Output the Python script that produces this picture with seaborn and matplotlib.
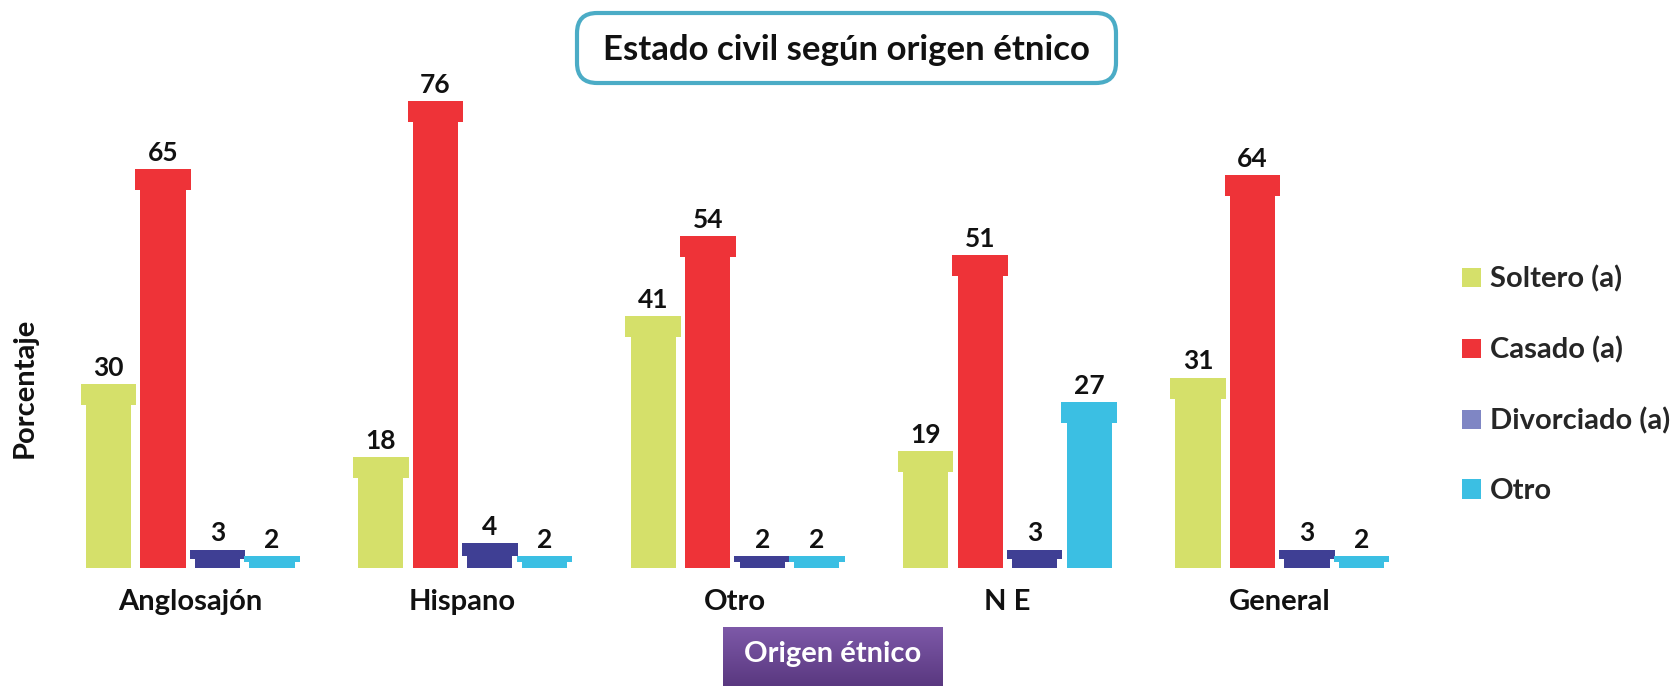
import matplotlib
matplotlib.use("Agg")
import matplotlib.pyplot as plt
import numpy as np
import pandas as pd
import seaborn as sns
from matplotlib.patches import Rectangle, Patch, FancyBboxPatch

# ---- data ----
categories = ["Anglosajón", "Hispano", "Otro", "N E", "General"]
soltero = [30, 18, 41, 19, 31]
casado = [65, 76, 54, 51, 64]
divorciado = [3, 4, 2, 3, 3]
otro = [2, 2, 2, 27, 2]
series_names = ["Soltero (a)", "Casado (a)", "Divorciado (a)", "Otro"]
bar_colors = ["#d5e06a", "#ee3338", "#3f3f94", "#3bbfe3"]
legend_colors = ["#d5e06a", "#ee3338", "#7f86c4", "#3bbfe3"]
title = "Estado civil según origen étnico"
xlabel = "Origen étnico"
ylabel = "Porcentaje"

df = pd.DataFrame({"origen": categories, series_names[0]: soltero,
                   series_names[1]: casado, series_names[2]: divorciado,
                   series_names[3]: otro})
long = df.melt(id_vars="origen", var_name="estado", value_name="pct")

sns.set_theme(style="white")
FONT = ["Lato", "DejaVu Sans"]
plt.rcParams["font.family"] = FONT

W, H = 1675, 686
fig = plt.figure(figsize=(W / 100, H / 100), dpi=100)
ax = fig.add_axes([54 / W, (H - 568) / H, (1416 - 54) / W, (568 - 46) / H])

sns.barplot(data=long, x="origen", y="pct", hue="estado", order=categories,
            hue_order=series_names, palette=bar_colors, width=0.8,
            saturation=1, legend=False, ax=ax, errorbar=None)

ax.set_xlim(-0.5, 4.5)
ax.set_ylim(0, 85)

cap_units = 3.4
for cont in ax.containers:
    for p in list(cont.patches):
        x, w, h = p.get_x(), p.get_width(), p.get_height()
        ch = min(cap_units, 0.5 * h)
        fc = p.get_facecolor()
        ax.add_patch(Rectangle((x - w * 0.01, h - ch), w * 1.02, ch,
                               facecolor=fc, edgecolor="none", linewidth=0, zorder=3))
        p.set_x(x + w * 0.085)
        p.set_width(w * 0.83)
        p.set_linewidth(0)
        p.set_edgecolor("none")
    texts = ax.bar_label(cont, fmt="%.0f", padding=3)
    for t in texts:
        t.set_fontsize(19)
        t.set_fontweight("bold")
        t.set_color("#111111")

for s in ax.spines.values():
    s.set_visible(False)
ax.set_yticks([])
ax.set_xlabel("")
ax.set_ylabel("")
ax.tick_params(axis="x", length=0, pad=15)
for lab in ax.get_xticklabels():
    lab.set_fontsize(21)
    lab.set_fontweight("bold")
    lab.set_color("#111111")

# y label
fig.text(25 / W, (H - 388) / H, ylabel, rotation=90, ha="center", va="center",
         fontsize=21, fontweight="bold", color="#111111")

# title box
x0, x1, y0, y1 = 577, 1116, 13, 83
fig.patches.append(FancyBboxPatch((x0 / W, (H - y1) / H), (x1 - x0) / W, (y1 - y0) / H,
                                  boxstyle="round,pad=0,rounding_size=0.012",
                                  transform=fig.transFigure, facecolor="white",
                                  edgecolor="#4bacc6", linewidth=3, mutation_aspect=W / H))
fig.text((x0 + x1) / 2 / W, (H - 50) / H, title, ha="center", va="center",
         fontsize=25, fontweight="bold", color="#111111")

# x label box with gradient
bx0, bx1, by0, by1 = 723, 943, 627, 686
bax = fig.add_axes([bx0 / W, 0, (bx1 - bx0) / W, (H - by0) / H])
grad = np.linspace(0, 1, 100).reshape(-1, 1)
top_c = np.array([0x7d, 0x59, 0xa8]) / 255
bot_c = np.array([0x5a, 0x38, 0x80]) / 255
img = top_c[None, None, :] * (1 - grad[:, :, None]) + bot_c[None, None, :] * grad[:, :, None]
bax.imshow(img, aspect="auto", extent=[0, 1, 0, 1])
bax.axis("off")
fig.text((bx0 + bx1) / 2 / W, (H - 654) / H, xlabel, ha="center", va="center",
         fontsize=21, fontweight="bold", color="white")

# legend
handles = [Patch(facecolor=c, edgecolor="none") for c in legend_colors]
fig.legend(handles, series_names, loc="center left",
           bbox_to_anchor=(1462 / W, (H - 385) / H), frameon=False,
           prop={"weight": "bold", "size": 21, "family": FONT},
           handlelength=0.65, handleheight=0.65, handletextpad=0.3,
           labelspacing=1.5, borderpad=0, borderaxespad=0)

fig.savefig("out.png", dpi=100)
